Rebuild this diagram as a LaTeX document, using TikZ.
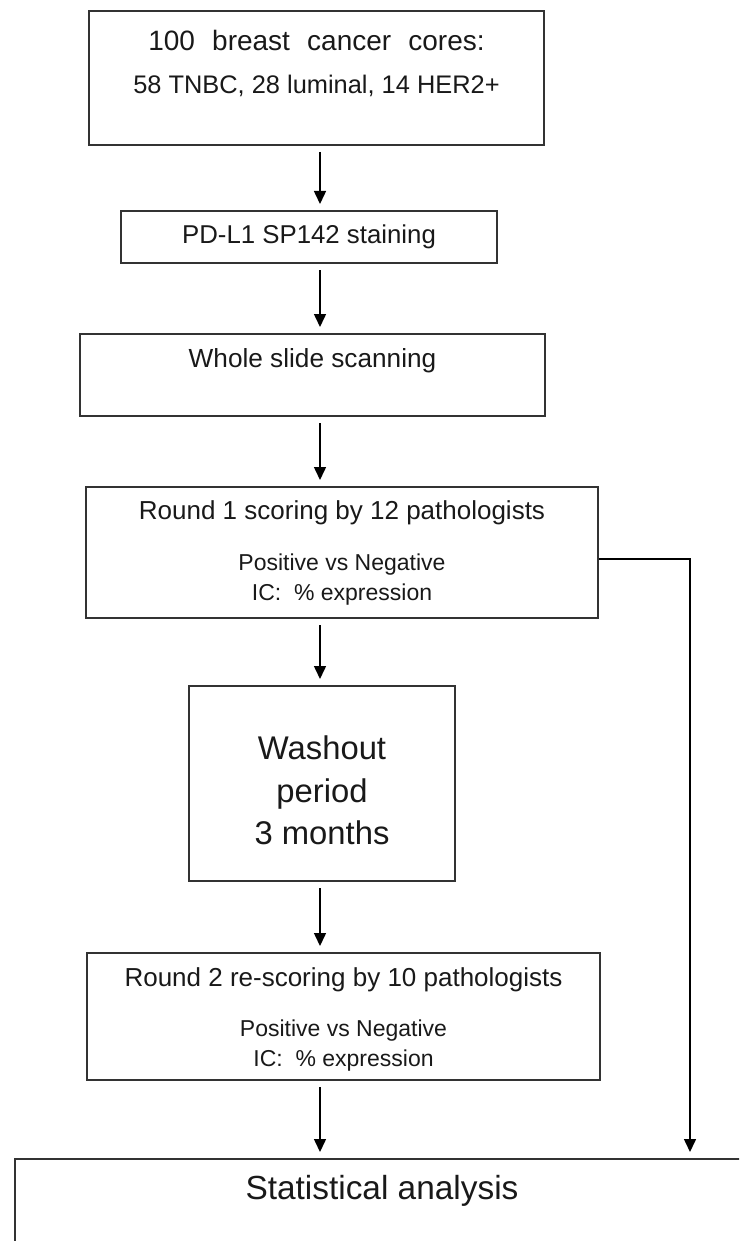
\documentclass[tikz,border=0pt]{standalone}
\usepackage{fontspec}
\setmainfont{Liberation Sans}
\usetikzlibrary{positioning, calc, arrows.meta}

\tikzset{
  stepbox/.style={rectangle, draw=black!80, line width=1pt, inner xsep=0pt, inner ysep=0pt, align=center, text=black!90},
  flow/.style={-{Triangle[length=6.5pt, width=6pt]}, line width=0.75pt, shorten <=3pt, shorten >=3pt},
}

\begin{document}
\begin{tikzpicture}[x=0.5pt, y=-0.5pt]
			\clip (0,0) rectangle (739,1241);
			\coordinate (mid) at (320,0);
			\coordinate (side) at (690,0);
			\node[stepbox, minimum width=227.5pt, font=\fontsize{12.7}{21.5}\selectfont] (cores) at (316.5,78)
				{\rule{0pt}{19.95pt}{\fontsize{14}{21.5}\selectfont\spaceskip=8.6pt 100 breast cancer cores:}\\
				58 TNBC, 28 luminal, 14 HER2+\rule[-25.55pt]{0pt}{25.55pt}};
			\node[stepbox, minimum width=188pt, text height=16pt, text depth=10pt, font=\fontsize{12.9}{15}\selectfont] (stain) at (309,237) {PD-L1 SP142 staining};
			\node[stepbox, minimum width=232.5pt, text height=16.6pt, text depth=24.4pt, font=\fontsize{13.1}{15}\selectfont] (scan) at (312.5,375) {Whole slide scanning};
			\node[stepbox, minimum width=256pt, font=\fontsize{11.5}{15}\selectfont] (round1) at (342,552.5)
				{\rule{0pt}{16pt}{\fontsize{13}{15}\selectfont Round 1 scoring by 12 pathologists}\\[10.5pt]
				Positive vs Negative\\
				IC:\ \ \% expression\rule[-9pt]{0pt}{9pt}};
			\node[stepbox, minimum width=133pt, font=\fontsize{16.4}{21.25}\selectfont] (washout) at (322,783.5)
				{\rule{0pt}{36.75pt}Washout\\period\\3 months\rule[-18.25pt]{0pt}{18.25pt}};
			\node[stepbox, minimum width=256.5pt, font=\fontsize{11.5}{15}\selectfont] (round2) at (343.5,1016.5)
				{\rule{0pt}{16.5pt}{\fontsize{13}{15}\selectfont Round 2 re-scoring by 10 pathologists}\\[10pt]
				Positive vs Negative\\
				IC:\ \ \% expression\rule[-7pt]{0pt}{7pt}};
			\node[stepbox, anchor=north west, minimum width=367pt, text height=20.35pt, text depth=60pt, font=\fontsize{16.7}{20}\selectfont] (stats) at (14,1158) {Statistical analysis};
			\draw[flow] (cores.south -| mid) -- (stain.north -| mid);
			\draw[flow] (stain.south -| mid) -- (scan.north -| mid);
			\draw[flow] (scan.south -| mid) -- (round1.north -| mid);
			\draw[flow] (round1.south -| mid) -- (washout.north -| mid);
			\draw[flow] (washout.south -| mid) -- (round2.north -| mid);
			\draw[flow] (round2.south -| mid) -- (stats.north -| mid);
			\draw[flow, shorten <=0pt] ([yshift=-3.25pt]round1.east) -| (stats.north -| side);
		\end{tikzpicture}
\end{document}
